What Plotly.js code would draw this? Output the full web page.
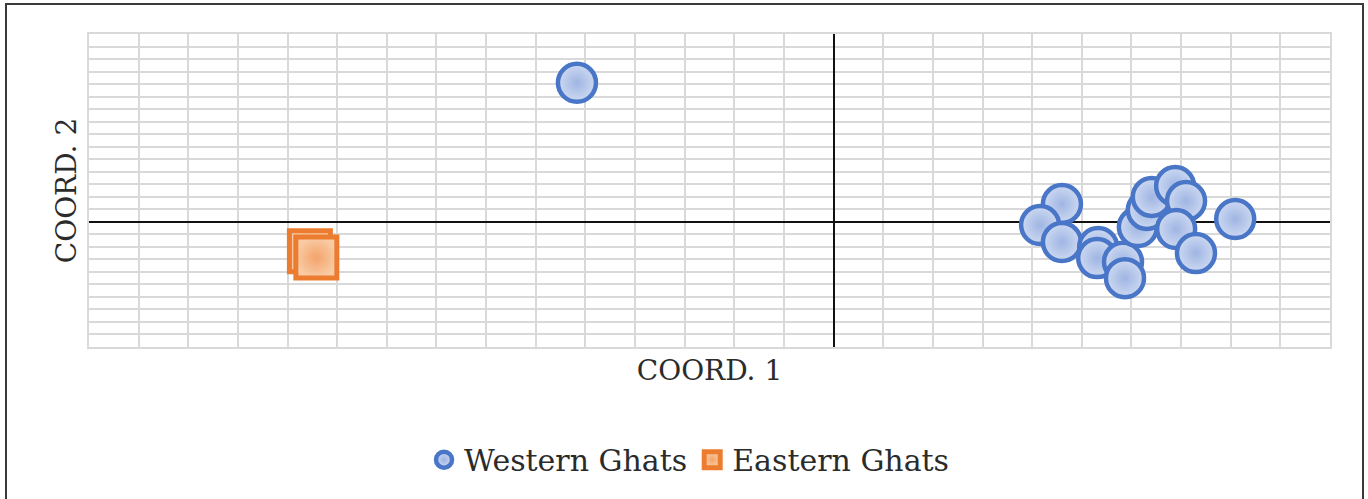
<!DOCTYPE html>
<html>
<head>
<meta charset="utf-8">
<script src="https://cdn.plot.ly/plotly-3.0.1.min.js"></script>
<style>
  html, body { margin: 0; padding: 0; background: #ffffff; overflow: hidden; }
  #frame { position: absolute; left: 5px; top: 3px; width: 1359px; height: 520px;
           border: 2px solid #3a3a3a; border-bottom: none; box-sizing: border-box; }
  #chart { position: absolute; left: 0; top: 0; width: 1368px; height: 499px; }
</style>
</head>
<body>
<div id="frame"></div>
<div id="chart"></div>
<script>
// Coordinates (gridline = 1 unit)
const westernX = [-5.17, 4.60, 4.16, 4.60, 5.33, 5.31, 5.83, 5.87, 6.13, 6.31, 6.41, 6.88, 7.10, 6.90, 7.30, 8.09];
const westernY = [11.10, 1.42, -0.26, -1.62, -2.02, -2.90, -3.20, -4.50, -0.42, 0.94, 1.98, 2.86, 1.66, -0.58, -2.50, 0.22];
const easternX = [-10.55, -10.42];
const easternY = [-2.35, -2.86];
const seriesNames = ["Western Ghats", "Eastern Ghats"];
const xRange = [-15, 10];
const yRange = [-10, 15];

const font = "'DejaVu Serif', 'Liberation Serif', serif";

const traces = [
  {
    type: "scatter", mode: "markers", name: seriesNames[0],
    x: westernX, y: westernY,
    marker: {
      symbol: "circle", size: 38, color: "#cdd9f1",
      gradient: { type: "radial", color: "#9fb5e3" },
      line: { color: "#4a76c8", width: 4.5 }
    }
  },
  {
    type: "scatter", mode: "markers", name: seriesNames[1],
    x: easternX, y: easternY,
    marker: {
      symbol: "square", size: 41, color: "#f9cba5",
      gradient: { type: "radial", color: "#f3a46b" },
      line: { color: "#ec7c30", width: 5 }
    }
  }
];

const axisCommon = {
  dtick: 1, tick0: 0,
  showticklabels: false, ticks: "",
  showgrid: true, gridcolor: "#d9d9d9", gridwidth: 2,
  showline: true, linecolor: "#d9d9d9", linewidth: 2, mirror: true,
  zeroline: true, zerolinecolor: "#111111", zerolinewidth: 2,
  fixedrange: true
};

const titleFont = { family: font, size: 28, color: "#2b2b2b" };

const layout = {
  width: 1368, height: 499,
  margin: { l: 89, r: 38, t: 34, b: 152 },
  paper_bgcolor: "rgba(0,0,0,0)",
  plot_bgcolor: "#ffffff",
  showlegend: true,
  xaxis: Object.assign({}, axisCommon, {
    range: xRange,
    title: { text: "COORD. 1", standoff: 12, font: titleFont }
  }),
  yaxis: Object.assign({}, axisCommon, {
    range: yRange,
    title: { text: "COORD. 2", standoff: 2, font: titleFont }
  }),
  legend: {
    orientation: "h", x: 0.4835, xanchor: "center", y: -0.36, yanchor: "middle",
    font: { family: font, size: 30, color: "#2b2b2b" },
    itemwidth: 30, tracegroupgap: 0, bgcolor: "rgba(0,0,0,0)"
  }
};

Plotly.newPlot("chart", traces, layout, { staticPlot: true, displayModeBar: false });
</script>
</body>
</html>
